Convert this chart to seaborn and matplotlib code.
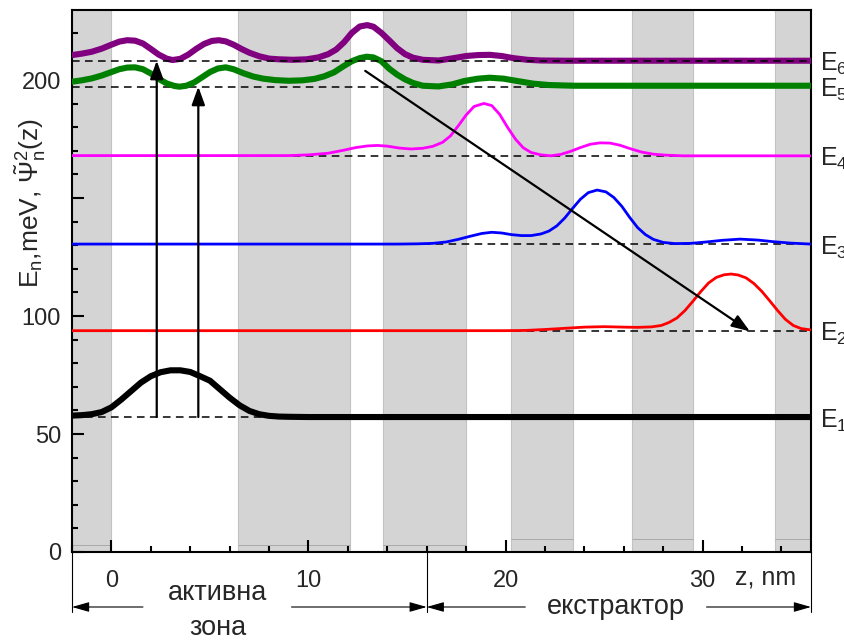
import matplotlib
matplotlib.use("Agg")
import matplotlib.pyplot as plt
import numpy as np
import pandas as pd
import seaborn as sns
from matplotlib.ticker import MultipleLocator, FixedLocator

# ---- structure: barrier layers along z (nm) ----
barrier_start = [-2.0, 6.43, 13.79, 20.3, 26.4, 33.65]
barrier_end = [0.0, 12.12, 18.0, 23.4, 29.5, 35.5]
barrier_floor = [3.0, 3.0, 3.0, 5.5, 5.5, 5.5]

# ---- subband energies (meV) ----
level_names = ["E1", "E2", "E3", "E4", "E5", "E6"]
level_energy = [57.2, 93.8, 130.5, 167.9, 197.2, 208.2]

# ---- |psi_n(z)|^2 curves, offset by E_n (meV) ----
z_e1 = [-2.0, -1.5, -1.0, -0.5, 0.0, 0.5, 1.0, 1.5, 2.0, 2.5, 3.0, 3.5, 4.0, 4.5, 5.0,
        5.5, 6.0, 6.5, 7.0, 7.5, 8.0, 8.5, 9.0, 10.0, 35.5]
v_e1 = [57.8, 58.0, 58.4, 59.3, 61.3, 64.6, 68.2, 71.8, 74.5, 76.2, 77.0, 77.0, 76.3, 74.5, 72.6,
        69.0, 65.4, 62.2, 59.8, 58.4, 57.7, 57.4, 57.3, 57.2, 57.2]

z_e2 = [-2.0, 20.0, 21.0, 22.0, 23.0, 24.0, 25.0, 26.0, 26.7, 27.4, 27.9, 28.3, 28.7, 29.1,
        29.5, 29.9, 30.3, 30.7, 31.1, 31.45, 31.8, 32.2, 32.6, 33.0, 33.4, 33.8, 34.2, 34.6,
        35.0, 35.5]
v_e2 = [93.8, 93.8, 93.9, 94.3, 94.8, 95.3, 95.5, 95.3, 95.2, 95.4, 96.0, 97.3, 99.2, 102.3,
        106.2, 110.3, 114.0, 116.4, 117.5, 117.8, 117.4, 116.2, 113.8, 110.5, 106.5, 102.4, 98.6, 96.0,
        94.7, 94.1]

z_e3 = [-2.0, 14.5, 15.5, 16.3, 17.0, 17.6, 18.2, 18.8, 19.3, 19.8, 20.3, 20.8, 21.3, 21.8,
        22.2, 22.6, 23.0, 23.4, 23.8, 24.2, 24.65, 25.1, 25.5, 25.9, 26.3, 26.7, 27.1, 27.5,
        28.0, 28.6, 29.4, 30.2, 31.0, 31.9, 32.8, 33.6, 34.5, 35.5]
v_e3 = [130.5, 130.5, 130.6, 130.8, 131.4, 132.5, 133.8, 135.0, 135.5, 135.2, 134.5, 134.1, 134.1, 134.8,
        136.0, 138.2, 141.5, 145.6, 149.5, 152.3, 153.4, 152.6, 150.2, 146.5, 141.8, 137.5, 134.5, 132.5,
        131.2, 130.7, 130.8, 131.4, 132.1, 132.6, 132.2, 131.5, 130.9, 130.5]

z_e4 = [-2.0, 9.0, 10.0, 11.0, 11.8, 12.4, 13.0, 13.5, 14.0, 14.6, 15.2, 15.8, 16.3, 16.8,
        17.2, 17.6, 18.0, 18.4, 18.9, 19.3, 19.7, 20.1, 20.5, 20.9, 21.3, 21.8, 22.3, 22.8,
        23.3, 23.8, 24.3, 24.8, 25.3, 25.8, 26.3, 26.9, 27.5, 28.1, 29.0, 35.5]
v_e4 = [168.0, 168.0, 168.3, 169.0, 170.3, 171.4, 172.1, 172.3, 172.0, 171.2, 170.8, 171.1, 171.9, 173.6,
        176.3, 180.6, 185.2, 188.8, 190.1, 189.2, 185.5, 180.0, 175.0, 171.3, 169.3, 168.3, 167.9, 168.5,
        169.8, 171.4, 172.8, 173.4, 173.3, 172.4, 171.0, 169.5, 168.6, 168.2, 167.9, 167.9]

z_e5 = [-2.0, -1.5, -1.0, -0.5, 0.0, 0.4, 0.8, 1.2, 1.6, 2.0, 2.4, 2.8, 3.2, 3.45, 3.8, 4.2,
        4.6, 5.0, 5.4, 5.8, 6.2, 6.7, 7.2, 7.7, 8.3, 9.0, 9.7, 10.3, 10.8, 11.3, 11.8, 12.2,
        12.6, 12.95, 13.3, 13.7, 14.1, 14.5, 14.9, 15.3, 15.8, 16.6, 17.3, 17.9, 18.6, 19.2,
        19.9, 20.6, 21.4, 22.2, 23.5, 35.5]
v_e5 = [199.3, 199.9, 200.7, 201.9, 203.4, 204.6, 205.3, 205.4, 204.6, 202.8, 200.5, 198.6, 197.5, 197.2, 197.6, 199.0,
        201.2, 203.4, 204.9, 205.4, 204.6, 202.9, 201.5, 200.6, 200.0, 199.7, 199.9, 200.5, 201.6, 203.3, 206.0, 208.0,
        209.3, 209.9, 209.6, 208.0, 204.8, 202.3, 200.3, 198.8, 197.6, 197.3, 198.2, 199.6, 200.6, 201.0,
        200.6, 199.6, 198.5, 197.9, 197.6, 197.6]

z_e6 = [-2.0, -1.5, -1.0, -0.5, 0.0, 0.4, 0.8, 1.2, 1.6, 2.0, 2.4, 2.8, 3.1, 3.5, 3.9, 4.3,
        4.7, 5.1, 5.45, 5.8, 6.2, 6.6, 7.0, 7.5, 8.0, 8.5, 9.2, 9.9, 10.5, 11.0, 11.4, 11.8,
        12.2, 12.6, 12.98, 13.3, 13.7, 14.1, 14.5, 14.9, 15.3, 15.8, 16.6, 17.3, 18.0, 18.6,
        19.2, 19.8, 20.4, 21.1, 21.8, 23.0, 35.5]
v_e6 = [210.6, 211.2, 212.0, 213.3, 215.0, 216.3, 216.9, 216.7, 215.5, 213.2, 210.8, 209.1, 208.5, 209.0, 210.8, 213.2,
        215.3, 216.6, 216.9, 216.4, 215.0, 213.2, 211.6, 210.1, 209.1, 208.8, 208.6, 208.8, 209.6, 211.0, 212.9, 216.0,
        220.0, 222.7, 223.3, 222.6, 220.0, 216.8, 213.5, 211.0, 209.5, 208.6, 208.3, 209.2, 210.2, 210.6,
        210.7, 210.2, 209.3, 208.6, 208.3, 208.2, 208.2]

# ---- optical pumping (E1 -> E5/E6) and relaxation (E5 -> E2) ----
pump_z = [2.3, 4.41]
pump_from = [57.2, 57.2]
pump_to = [208.2, 197.2]
relax_start = (12.88, 203.9)
relax_end = (32.4, 93.5)

# ---- region marks below the axis ----
region_split = 16.0
x_ticks = [0, 10, 20, 30]

sns.set_style("ticks")
plt.rcParams["font.family"] = ["Liberation Sans", "DejaVu Sans"]
plt.rcParams["mathtext.fontset"] = "custom"
plt.rcParams["mathtext.rm"] = "Liberation Sans"
plt.rcParams["mathtext.it"] = "Liberation Sans:italic"
plt.rcParams["mathtext.bf"] = "Liberation Sans:bold"

curves = pd.concat([
    pd.DataFrame({"z": z, "E": v, "level": name})
    for name, z, v in zip(level_names,
                          [z_e1, z_e2, z_e3, z_e4, z_e5, z_e6],
                          [v_e1, v_e2, v_e3, v_e4, v_e5, v_e6])
], ignore_index=True)

palette = {"E1": "#000000", "E2": "#ff0000", "E3": "#0000ff",
           "E4": "#ff00ff", "E5": "#008000", "E6": "#800080"}
widths = {"E1": 4.4, "E2": 2.0, "E3": 2.0, "E4": 2.0, "E5": 4.4, "E6": 4.4}

W, H = 845, 640
L, R, T, B = 72, 811, 10, 552
fig = plt.figure(figsize=(W / 100, H / 100), dpi=100)
ax = fig.add_axes([L / W, (H - B) / H, (R - L) / W, (B - T) / H])

XMIN, XMAX, YMIN, YMAX = -2.0, 35.5, 0.0, 229.7
ax.set_xlim(XMIN, XMAX)
ax.set_ylim(YMIN, YMAX)

# barrier layers
for s, e, f in zip(barrier_start, barrier_end, barrier_floor):
    ax.axvspan(s, e, facecolor="#d4d4d4", edgecolor="#c2c2c2", lw=0.8, zorder=0)
    ax.hlines(f, s, e, color="#a9a9a9", lw=0.7, zorder=0.5)

# subband levels (dashed)
for name, en in zip(level_names, level_energy):
    ax.axhline(en, color="k", lw=1.1, ls=(0, (5, 3.5)),
               zorder=4 if name == "E6" else 1.5)

sns.lineplot(data=curves, x="z", y="E", hue="level", size="level",
             palette=palette, sizes=widths, sort=False, estimator=None,
             legend=False, ax=ax, zorder=3)
for line in ax.get_lines():
    line.set_solid_joinstyle("round")

# transition arrows
arrow_big = dict(arrowstyle="-|>,head_length=0.55,head_width=0.2",
                 lw=1.6, color="k", shrinkA=0, shrinkB=0, mutation_scale=20)
for zp, e0, e1 in zip(pump_z, pump_from, pump_to):
    ax.annotate("", xy=(zp, e1), xytext=(zp, e0), arrowprops=arrow_big, zorder=5)
ax.annotate("", xy=relax_end, xytext=relax_start, arrowprops=arrow_big, zorder=5)

# level labels on the right
for name, en in zip(level_names, level_energy):
    ax.text(1.012, en - 1.5, "E$_{%s}$" % name[1], transform=ax.get_yaxis_transform(),
            fontsize=18, ha="left", va="center", clip_on=False)

# axes, ticks
for sp in ax.spines.values():
    sp.set_linewidth(1.5)
    sp.set_color("k")
ax.xaxis.set_major_locator(FixedLocator(x_ticks))
ax.xaxis.set_minor_locator(MultipleLocator(2))
ax.set_yticks([0, 50, 100, 150, 200])
ax.set_yticklabels(["0", "50", "100", "", "200"])
ax.yaxis.set_minor_locator(MultipleLocator(10))
ax.tick_params(which="both", direction="in", top=False, right=False, width=1.5, color="k")
ax.tick_params(which="major", length=8.5)
ax.tick_params(which="minor", length=4)
ax.tick_params(axis="y", labelsize=17, pad=8)
ax.tick_params(axis="x", labelsize=17, pad=13)
ax.set_xlabel("")
ax.set_ylabel("")

fig.text(30 / W, 1 - 203 / H, r"E$_\mathregular{n}$,meV, $\mathregular{\tilde{\Psi}_n^2}$(z)",
         rotation=90, fontsize=19, ha="center", va="center")

# region box below the axis
xt = ax.get_xaxis_transform()
y_arrow = (B - 607) / (B - T)
y_end = (B - 612) / (B - T)
for xv in [XMIN, region_split, XMAX]:
    ax.plot([xv, xv], [0, y_end], transform=xt, color="k", lw=0.8, clip_on=False)

small_arrow = dict(arrowstyle="-|>,head_length=0.7,head_width=0.2", lw=0.8, color="k",
                   shrinkA=0, shrinkB=0, mutation_scale=15)
for x_from, x_to in [(1.6, XMIN), (9.14, region_split), (21.0, region_split), (30.2, XMAX)]:
    ax.annotate("", xy=(x_to, y_arrow), xytext=(x_from, y_arrow), xycoords=xt,
                textcoords=xt, arrowprops=small_arrow, annotation_clip=False)

ax.text(5.4, (B - 593) / (B - T), "активна", transform=xt, ha="center", va="center",
        fontsize=19.5, clip_on=False)
ax.text(5.4, (B - 628) / (B - T), "зона", transform=xt, ha="center", va="center",
        fontsize=19.5, clip_on=False)
ax.text(25.6, y_arrow, "екстрактор", transform=xt, ha="center", va="center",
        fontsize=19.5, clip_on=False)
ax.text(33.2, (B - 578) / (B - T), "z, nm", transform=xt, ha="center", va="center",
        fontsize=18, clip_on=False)

fig.savefig("out.png", dpi=100)
